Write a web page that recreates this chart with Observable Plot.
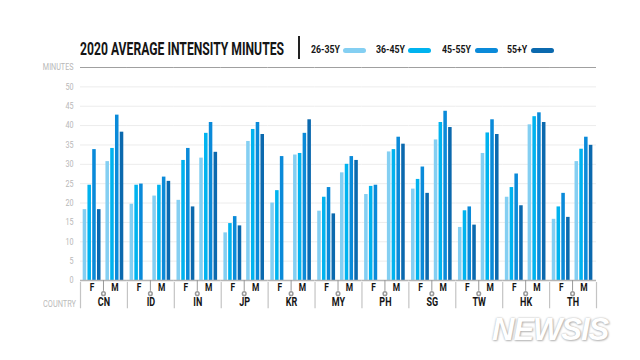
<!DOCTYPE html>
<html>
<head>
<meta charset="utf-8">
<script src="https://cdn.jsdelivr.net/npm/d3@7"></script>
<script src="https://cdn.jsdelivr.net/npm/@observablehq/plot@0.6"></script>
<style>
  html, body { margin: 0; padding: 0; background: #fff; }
  #wrap { position: relative; width: 640px; height: 360px; overflow: hidden; font-family: Roboto, "DejaVu Sans", sans-serif; }
  #title { position: absolute; left: 80px; top: 37px; font-size: 19px; font-weight: bold; color: #151515; white-space: nowrap; transform-origin: 0 0; }
  #vbar { position: absolute; left: 298px; top: 36px; width: 1.5px; height: 23px; background: #222; }
  .lab { position: absolute; top: 43px; font-size: 11px; font-weight: bold; color: #151515; white-space: nowrap; transform-origin: 0 0; }
  .sw { position: absolute; top: 48px; width: 23px; height: 5px; border-radius: 3px; }
  #country { position: absolute; left: 43px; top: 299px; font-size: 9px; color: #bbb; transform-origin: 0 0; }
  #chart { position: absolute; left: 0; top: 55px; }
  #wm { position: absolute; left: 492px; top: 312px; font-size: 31px; font-weight: bold; font-style: italic; color: #fff; text-shadow: 0 0 2px #aaa, 1px 1px 2px #bbb; font-family: "Liberation Sans", sans-serif; letter-spacing: -1px; }
</style>
</head>
<body>
<div id="wrap">
  <div id="title">2020 AVERAGE INTENSITY MINUTES</div>
  <div id="vbar"></div>
  <div id="legend"></div>
  <div id="chart"></div>
  <div id="country">COUNTRY</div>
  <div id="wm">NEWSIS</div>
</div>
<script>
const countries = ["CN","ID","IN","JP","KR","MY","PH","SG","TW","HK","TH"];
const ages = ["26-35Y","36-45Y","45-55Y","55+Y"];
const sexes = ["F","M"];
const colors = ["#84cff2","#00b3ef","#0a8ad9","#0b69ae"];

// Female values by age group (per country, in order above)
const f26 = [18.3,19.7,20.7,12.3,20.0,17.9,22.2,23.6,13.7,21.5,15.8];
const f36 = [24.6,24.6,31.0,14.7,23.2,21.5,24.3,26.1,18.0,24.0,19.0];
const f45 = [33.8,24.9,34.1,16.5,32.0,24.0,24.6,29.3,19.0,27.5,22.5];
const f55 = [18.3,null,19.0,14.1,null,17.2,null,22.5,14.3,19.3,16.3];
// Male values by age group
const m26 = [30.7,21.8,31.6,35.9,32.4,27.8,33.2,36.3,32.8,40.2,30.7];
const m36 = [34.1,24.6,38.0,39.0,32.8,30.0,33.8,40.8,38.1,42.3,33.9];
const m45 = [42.7,26.7,40.8,40.8,38.0,32.0,37.0,43.7,41.5,43.3,37.0];
const m55 = [38.3,25.6,33.1,37.7,41.5,31.0,35.2,39.5,37.7,40.8,34.9];

const yTicks = [0,5,10,15,20,25,30,35,40,45,50,55];

const series = {F: [f26,f36,f45,f55], M: [m26,m36,m45,m55]};
const rows = [];
countries.forEach((c, ci) => {
  sexes.forEach(s => {
    ages.forEach((a, ai) => {
      const v = series[s][ai][ci];
      if (v != null) rows.push({country: c, sex: s, age: a, ai, value: v});
    });
  });
});

// layout within each country facet (index units)
const mGap = 4.77;
const half = 0.37;
const xDom = [-0.93, 8.9];
const pos = d => d.ai + (d.sex === "M" ? mGap : 0);
const fCenter = 1.5, mCenter = 1.5 + mGap, divider = (3 + mGap) / 2;

// condensed look: horizontally squeeze an HTML element to a target width
function squeeze(el, w) {
  const s = w / el.getBoundingClientRect().width;
  el.style.transform = `scaleX(${s})`;
  return s;
}
squeeze(document.getElementById("title"), 204);

// legend
const wrap = document.getElementById("wrap");
const labX = [311, 376, 442, 507];
const swX = [343, 408, 475, 531];
let legScale = null;
ages.forEach((a, i) => {
  const t = document.createElement("div");
  t.className = "lab"; t.textContent = a; t.style.left = labX[i] + "px";
  wrap.appendChild(t);
  if (legScale == null) legScale = squeeze(t, 29);
  else t.style.transform = `scaleX(${legScale})`;
  const s = document.createElement("div");
  s.className = "sw"; s.style.left = swX[i] + "px"; s.style.background = colors[i];
  wrap.appendChild(s);
});
document.getElementById("country").style.transform = "scaleX(0.82)";

const font = "Roboto, 'DejaVu Sans', sans-serif";
const last = countries[countries.length - 1];

const chart = Plot.plot({
  width: 640,
  height: 270,
  marginTop: 12,
  marginBottom: 45,
  marginLeft: 80,
  marginRight: 44,
  style: {fontFamily: font, background: "transparent"},
  fx: {domain: countries, paddingInner: 0, paddingOuter: 0, round: false, axis: null},
  x: {domain: xDom, axis: null},
  y: {domain: [0, 55], axis: null},
  color: {domain: ages, range: colors},
  marks: [
    Plot.ruleY(yTicks.filter(t => t > 0 && t < 55), {stroke: "#ececec", strokeWidth: 1}),
    Plot.ruleY([55], {stroke: "#a0a0a0", strokeWidth: 1}),
    Plot.axisY({ticks: yTicks, tickFormat: d => d === 55 ? "MINUTES" : d, tickSize: 0, tickPadding: 7, label: null, fontSize: 9, color: "#b8b8b8"}),
    Plot.rectY(rows, {fx: "country", x1: d => pos(d) - half, x2: d => pos(d) + half, y: "value", fill: "age"}),
    Plot.ruleY([0], {stroke: "#b5b5b5", strokeWidth: 1.5}),
    Plot.ruleX(countries, {fx: d => d, x: xDom[0], y1: -0.5, y2: -7.3, stroke: "#c4c4c4", strokeWidth: 1.2}),
    Plot.ruleX([last], {fx: d => d, x: xDom[1], y1: -0.5, y2: -7.3, stroke: "#c4c4c4", strokeWidth: 1.2}),
    Plot.ruleX(countries, {fx: d => d, x: divider, y1: 0, y2: -2.8, stroke: "#999"}),
    Plot.dot(countries, {fx: d => d, x: divider, y: -3.4, r: 1.8, stroke: "#999", fill: "white"}),
    Plot.axisX({ticks: [fCenter, mCenter], tickFormat: d => d < 4 ? "F" : "M", tickSize: 0, tickPadding: 3, label: null, fontSize: 10.5, fontWeight: "bold", color: "#151515"}),
    Plot.axisFx({anchor: "bottom", tickSize: 0, tickPadding: 17, label: null, fontSize: 12.5, fontWeight: "bold", color: "#151515"})
  ]
});
document.getElementById("chart").appendChild(chart);

// condense axis label glyphs around their anchor points
function condense(sel, s) {
  chart.querySelectorAll(sel).forEach(t => {
    const tr = t.getAttribute("transform") || "";
    t.setAttribute("transform", tr + ` scale(${s},1)`);
  });
}
condense('g[aria-label="fx-axis tick label"] text', 0.72);
condense('g[aria-label="x-axis tick label"] text', 0.8);
condense('g[aria-label="y-axis tick label"] text', 0.8);
</script>
</body>
</html>
